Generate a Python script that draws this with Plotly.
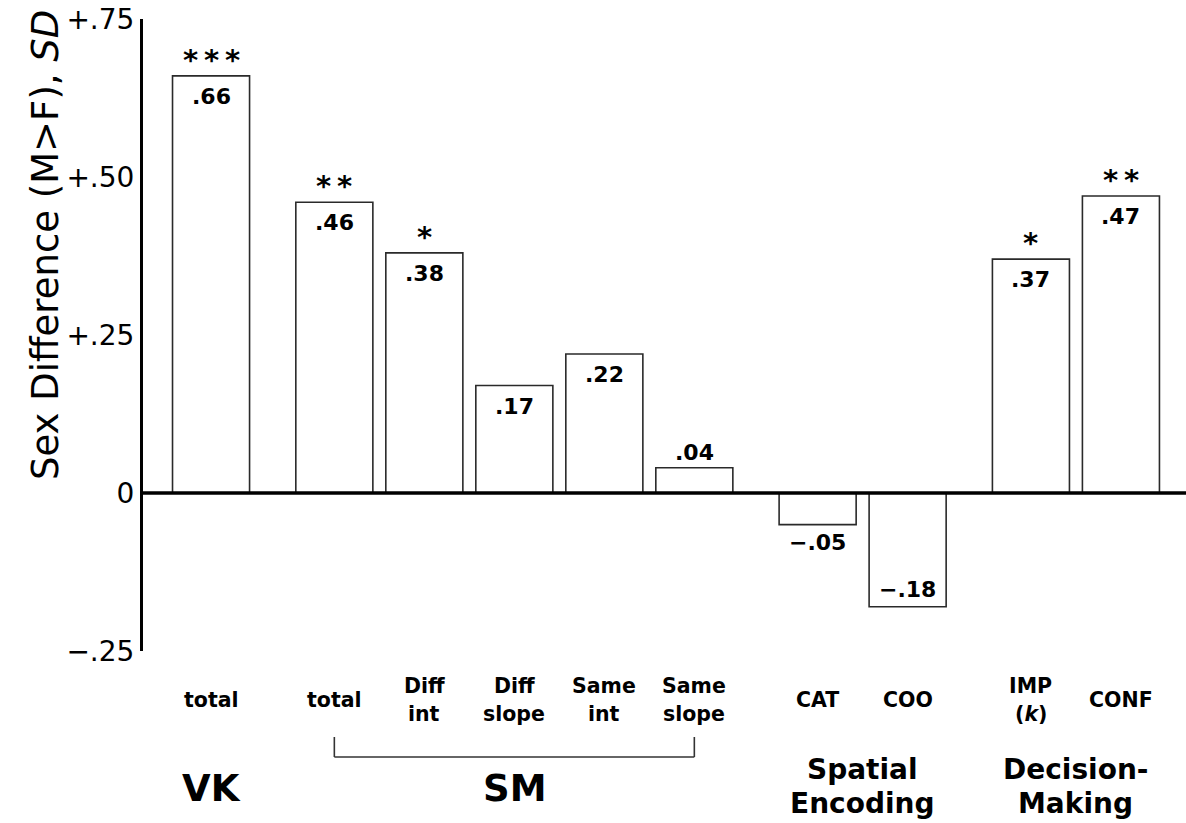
import plotly.graph_objects as go

# Effect sizes (male minus female, in SD units) per measure
measures = ["total", "total", "Diff<br>int", "Diff<br>slope", "Same<br>int", "Same<br>slope",
            "CAT", "COO", "IMP<br>(<i>k</i>)", "CONF"]
group_of = [0, 1, 1, 1, 1, 1, 2, 2, 3, 3]
values = [0.66, 0.46, 0.38, 0.17, 0.22, 0.04, -0.05, -0.18, 0.37, 0.47]
stars = ["***", "**", "*", "", "", "", "", "", "*", "**"]
group_names = ["VK", "SM", "Spatial<br>Encoding", "Decision-<br>Making"]

FONT = "DejaVu Sans"
GROUP_GAP = 0.37      # extra space between measure groups (in bar slots)
BAR_W = 0.856

x_pos = [i + GROUP_GAP * g for i, g in enumerate(group_of)]


def fmt(v):
    s = f"{abs(v):.2f}".lstrip("0")
    return ("\u2212" if v < 0 else "") + s


fig = go.Figure()
fig.add_trace(go.Bar(
    x=x_pos, y=values, width=BAR_W,
    marker=dict(color="white", line=dict(color="#2a2a2a", width=1.6)),
    hoverinfo="skip", showlegend=False,
))

ann = []
# value labels: inside the bar end when there's room, otherwise just outside
for x, v in zip(x_pos, values):
    inside = abs(v) >= 0.1
    if v >= 0:
        if inside:
            a = dict(yanchor="top", yshift=-6)
        else:
            a = dict(yanchor="bottom", yshift=1)
    else:
        if inside:
            a = dict(yanchor="bottom", yshift=3)
        else:
            a = dict(yanchor="top", yshift=-3)
    ann.append(dict(x=x, y=v, xref="x", yref="y", text=f"<b>{fmt(v)}</b>", showarrow=False,
                    font=dict(family=FONT, size=22, color="black"), **a))

# significance stars above the bars
for x, v, s in zip(x_pos, values, stars):
    if s:
        ann.append(dict(x=x, y=v, xref="x", yref="y", text="<b>" + "\u2009".join(s) + "</b>",
                        showarrow=False, yanchor="bottom", yshift=-3,
                        font=dict(family=FONT, size=29, color="black")))

# measure labels under the axis (one annotation per text line)
Y0 = 651
H = 632


def py(pix):
    return (Y0 - pix) / H


for x, lab in zip(x_pos, measures):
    lines = lab.split("<br>")
    if len(lines) == 1:
        rows = [(lines[0], 700)]
    else:
        rows = [(lines[0], 686), (lines[1], 714)]
    for t, ypix in rows:
        ann.append(dict(x=x, y=py(ypix), xref="x", yref="paper", text=f"<b>{t}</b>",
                        showarrow=False, yanchor="middle",
                        font=dict(family=FONT, size=20.5, color="black")))

# group titles
for g, name in enumerate(group_names):
    xs = [x for x, gg in zip(x_pos, group_of) if gg == g]
    xc = (min(xs) + max(xs)) / 2
    lines = name.split("<br>")
    if len(lines) == 1:
        rows = [(lines[0], 788)]
        size = 37
    else:
        rows = [(lines[0], 770), (lines[1], 803)]
        size = 28
    for t, ypix in rows:
        ann.append(dict(x=xc, y=py(ypix), xref="x", yref="paper", text=f"<b>{t}</b>",
                        showarrow=False, yanchor="middle",
                        font=dict(family=FONT, size=size, color="black")))

# y-axis title
ann.append(dict(x=(45 - 143) / 1043, y=py(245), xref="paper", yref="paper",
                text="Sex Difference (M>F), <i>SD</i>", textangle=-90, showarrow=False,
                xanchor="center", yanchor="middle",
                font=dict(family=FONT, size=37, color="black")))

shapes = [
    # baseline at zero
    dict(type="line", xref="paper", yref="y", x0=0, x1=1, y0=0, y1=0,
         line=dict(color="black", width=3.5), layer="above"),
]
# bracket spanning the SM measures
sm_x = [x for x, g in zip(x_pos, group_of) if g == 1]
br_y0, br_y1 = py(737), py(757)
for x0, y0, x1, y1 in [(sm_x[0], br_y0, sm_x[0], br_y1),
                       (sm_x[-1], br_y0, sm_x[-1], br_y1),
                       (sm_x[0], br_y1, sm_x[-1], br_y1)]:
    shapes.append(dict(type="line", xref="x", yref="paper", x0=x0, x1=x1, y0=y0, y1=y1,
                       line=dict(color="#333333", width=1.6)))

fig.update_layout(
    width=1186, height=823, autosize=False,
    margin=dict(l=143, r=0, t=19, b=172, pad=0),
    paper_bgcolor="white", plot_bgcolor="white",
    xaxis=dict(range=[-0.756, 10.833], visible=False),
    yaxis=dict(range=[-0.25, 0.75], tickvals=[-0.25, 0, 0.25, 0.5, 0.75],
               ticktext=["\u2212.25", "0", "+.25", "+.50", "+.75"],
               tickfont=dict(family=FONT, size=28, color="black"),
               showgrid=False, zeroline=False, showline=True, linecolor="black",
               linewidth=3, ticks="", ticklen=0, ticklabelstandoff=0),
    annotations=ann, shapes=shapes,
)

fig.write_html("out.html")
